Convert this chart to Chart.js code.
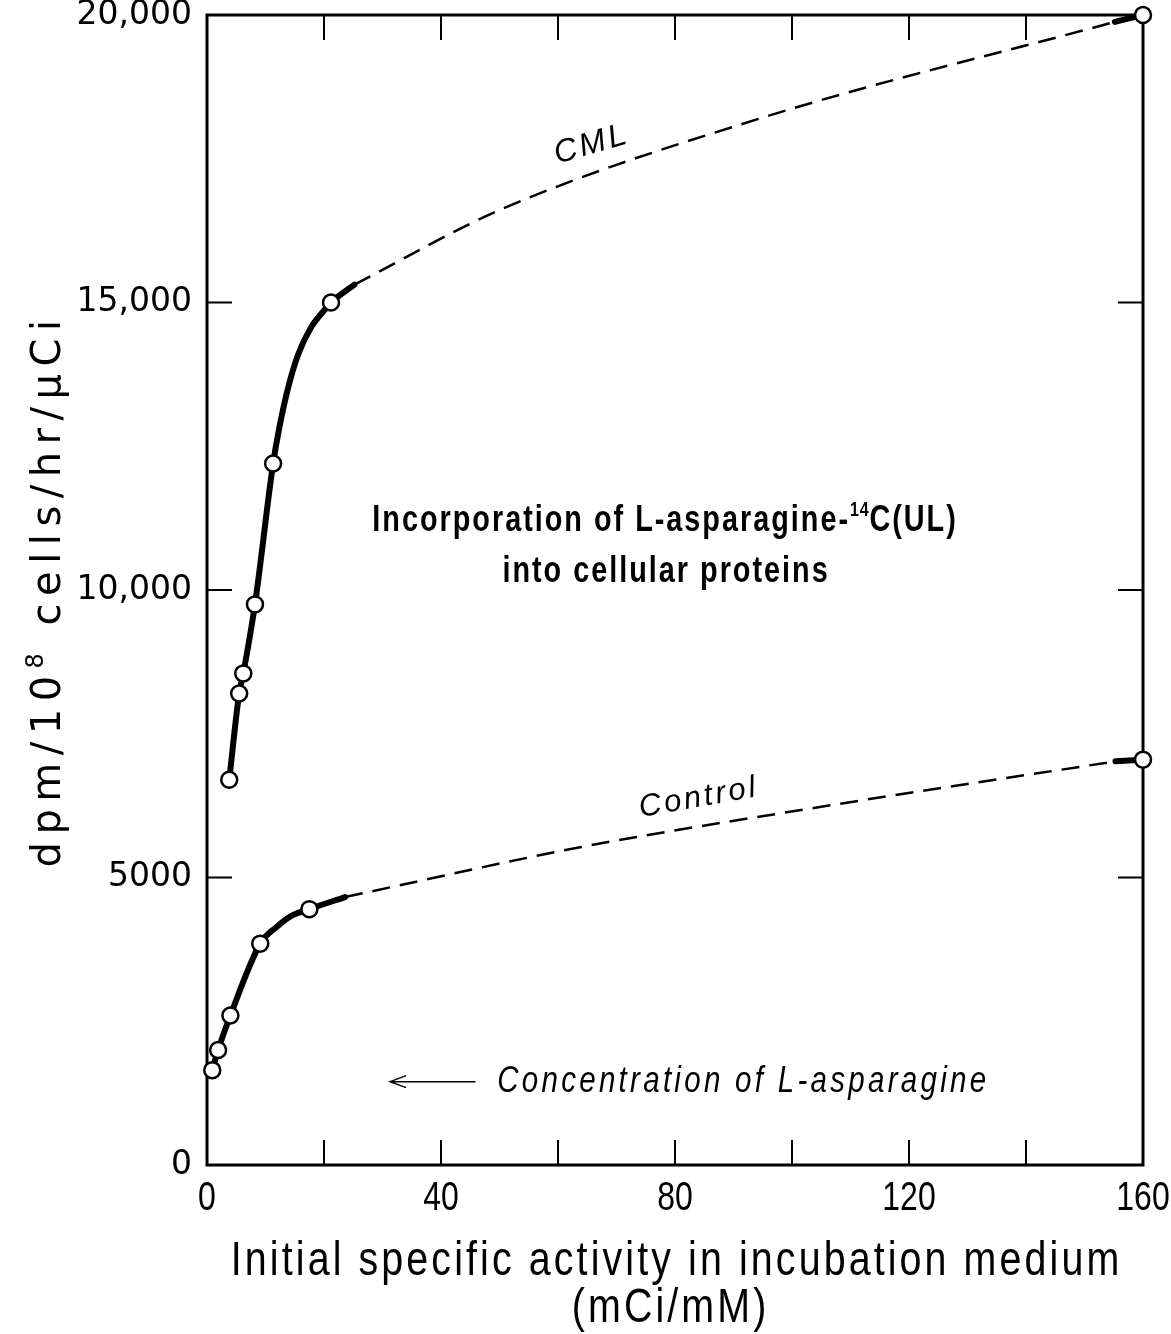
<!DOCTYPE html>
<html>
<head>
<meta charset="utf-8">
<script src="https://cdn.jsdelivr.net/npm/chart.js@4.4.1/dist/chart.umd.min.js"></script>
<style>
  html, body { margin: 0; padding: 0; background: #fff; }
  #wrap { width: 1171px; height: 1334px; }
</style>
</head>
<body>
<div id="wrap"><canvas id="chart"></canvas></div>
<script>
// ── Axes ─────────────────────────────────────────────────────────────────────
const X_MIN = 0, X_MAX = 160, X_STEP = 20;
const X_LABELED = [0, 40, 80, 120, 160];
const Y_MIN = 0, Y_MAX = 20000, Y_STEP = 5000;

// ── Measured points (open circles) ───────────────────────────────────────────
const CML_X = [3.8, 5.5, 6.2, 8.2, 11.3, 21.2, 160];
const CML_Y = [6700, 8200, 8550, 9750, 12200, 15000, 20000];
const CONTROL_X = [0.9, 1.9, 4.0, 9.1, 17.5, 160];
const CONTROL_Y = [1650, 2000, 2600, 3850, 4450, 7050];

// ── Hand-drawn curves ────────────────────────────────────────────────────────
// solid part through the low-activity points
const CML_SOLID_X = [3.8, 5.5, 6.2, 8.2, 11.3, 12.3, 13.9, 15.6, 17.8, 20.0, 21.2, 25.2];
const CML_SOLID_Y = [6700, 8200, 8550, 9750, 12200, 12790, 13530, 14100, 14570, 14860, 15000, 15310];
const CONTROL_SOLID_X = [0.9, 1.9, 4.0, 9.1, 11.9, 14.2, 17.5, 23.6];
const CONTROL_SOLID_Y = [1650, 2000, 2600, 3850, 4140, 4320, 4450, 4660];
// dashed extrapolation
const CML_DASH_X = [25.2, 50.3, 94.8, 155.2];
const CML_DASH_Y = [15310, 16620, 18210, 19880];
const CONTROL_DASH_X = [23.6, 64, 105, 155.3];
const CONTROL_DASH_Y = [4660, 5530, 6230, 7020];
// short solid stub into the last point
const CML_STUB_X = [155.2, 160];
const CML_STUB_Y = [19880, 20000];
const CONTROL_STUB_X = [155.3, 160];
const CONTROL_STUB_Y = [7020, 7050];

const pts = (xs, ys) => xs.map((x, i) => ({ x, y: ys[i] }));

const SANS = "'Liberation Sans', Arial, Helvetica, sans-serif";
const WIDE = "'DejaVu Sans', 'Liberation Sans', sans-serif";
const NARROW = 0.82;   // horizontal squeeze to imitate the condensed type

function curve(data, dashed, width) {
    return {
        data,
        borderColor: '#000',
        borderWidth: width,
        borderDash: dashed ? [18, 10] : [],
        borderCapStyle: dashed ? 'butt' : 'round',
        pointRadius: 0,
        showLine: true,
        cubicInterpolationMode: 'monotone',
        clip: false,
        order: 2,
    };
}

function markers(data) {
    return {
        data,
        showLine: false,
        pointRadius: 8,
        pointBorderWidth: 2.5,
        pointBackgroundColor: '#fff',
        pointBorderColor: '#000',
        clip: false,
        order: 1,
    };
}

// ── Frame with inward ticks on all four sides ────────────────────────────────
const TICK = 25;
const frameTicks = {
    id: 'frameTicks',
    beforeDatasetsDraw(chart) {
        const { ctx, chartArea: a, scales: { x, y } } = chart;
        ctx.save();
        ctx.strokeStyle = '#000';
        ctx.lineWidth = 2;
        ctx.beginPath();
        x.ticks.forEach(t => {
            if (t.value <= X_MIN || t.value >= X_MAX) return;
            const px = x.getPixelForValue(t.value);
            ctx.moveTo(px, a.bottom); ctx.lineTo(px, a.bottom - TICK);
            ctx.moveTo(px, a.top); ctx.lineTo(px, a.top + TICK);
        });
        y.ticks.forEach(t => {
            if (t.value <= Y_MIN || t.value >= Y_MAX) return;
            const py = y.getPixelForValue(t.value);
            ctx.moveTo(a.left, py); ctx.lineTo(a.left + TICK, py);
            ctx.moveTo(a.right, py); ctx.lineTo(a.right - TICK, py);
        });
        ctx.stroke();
        ctx.lineWidth = 3;
        ctx.strokeRect(a.left, a.top, a.width, a.height);
        ctx.restore();
    },
};

// ── Texts: axis titles and annotations ──────────────────────────────────────
// draws str with letter spacing and a horizontal squeeze; returns advance width
function text(ctx, str, x, y, font, spacing, align, squeeze) {
    const k = squeeze || 1;
    ctx.font = font;
    ctx.letterSpacing = spacing + 'px';
    const w = (ctx.measureText(str).width - spacing) * k;
    const left = align === 'left' ? x : x - w / 2;
    ctx.save();
    ctx.translate(left, y);
    ctx.scale(k, 1);
    ctx.textAlign = 'left';
    ctx.fillText(str, 0, 0);
    ctx.restore();
    return w + spacing * k;
}

function measure(ctx, str, font, spacing, squeeze) {
    ctx.font = font;
    ctx.letterSpacing = spacing + 'px';
    return ctx.measureText(str).width * (squeeze || 1);
}

const annotations = {
    id: 'annotations',
    afterDraw(chart) {
        const { ctx, chartArea: a, scales: { x, y } } = chart;
        ctx.save();
        ctx.fillStyle = '#000';
        ctx.strokeStyle = '#000';
        ctx.textBaseline = 'alphabetic';

        // x tick labels (condensed figures)
        x.ticks.forEach(t => {
            if (!X_LABELED.includes(t.value)) return;
            text(ctx, String(t.value), x.getPixelForValue(t.value), a.bottom + 45, `40px ${SANS}`, 0, 'center', 0.8);
        });

        // x-axis title
        const cx = (a.left + a.right) / 2;
        text(ctx, 'Initial specific activity in incubation medium', cx, 1275, `48px ${SANS}`, 3.8, 'center', NARROW);
        text(ctx, '(mCi/mM)', cx - 6, 1322, `48px ${SANS}`, 3.8, 'center', NARROW);

        // y-axis title, with a raised 8
        ctx.save();
        ctx.translate(60, 590);
        ctx.rotate(-Math.PI / 2);
        const yt1 = 'dpm/10', yt2 = '8', yt3 = ' cells/hr/μCi';
        const f1 = `40px ${WIDE}`, f2 = `24px ${WIDE}`;
        const tw = measure(ctx, yt1, f1, 7.5) + measure(ctx, yt2, f2, 7.5) + measure(ctx, yt3, f1, 7.5);
        let tx = -tw / 2;
        tx += text(ctx, yt1, tx, 0, f1, 7.5, 'left');
        tx += text(ctx, yt2, tx, -17, f2, 7.5, 'left');
        text(ctx, yt3, tx, 0, f1, 7.5, 'left');
        ctx.restore();

        // middle caption
        const mx = x.getPixelForValue(78.3);
        const big = `bold 36px ${SANS}`, small = `bold 20px ${SANS}`;
        const l1a = 'Incorporation of L-asparagine-', l1b = '14', l1c = 'C(UL)';
        const wa = measure(ctx, l1a, big, 2.5, 0.8);
        const wb = measure(ctx, l1b, small, 1, 0.8);
        const wc = measure(ctx, l1c, big, 2.5, 0.8);
        const sx = mx - (wa + wb + wc) / 2;
        const b1 = y.getPixelForValue(11030);
        text(ctx, l1a, sx, b1, big, 2.5, 'left', 0.8);
        text(ctx, l1b, sx + wa, b1 - 15, small, 1, 'left', 0.8);
        text(ctx, l1c, sx + wa + wb, b1, big, 2.5, 'left', 0.8);
        text(ctx, 'into cellular proteins', mx, y.getPixelForValue(10140), big, 2.5, 'center', 0.8);

        // curve labels
        ctx.textBaseline = 'middle';
        ctx.save();
        ctx.translate(x.getPixelForValue(65.5), y.getPixelForValue(17740));
        ctx.rotate(-16 * Math.PI / 180);
        text(ctx, 'CML', 0, 0, `italic 32px ${SANS}`, 3, 'center');
        ctx.restore();

        ctx.save();
        ctx.translate(x.getPixelForValue(83.8), y.getPixelForValue(6380));
        ctx.rotate(-10 * Math.PI / 180);
        text(ctx, 'Control', 0, 0, `italic 31px ${SANS}`, 3, 'center');
        ctx.restore();

        // arrow + concentration note
        const ay = y.getPixelForValue(1450);
        const ax0 = x.getPixelForValue(45.9), ax1 = x.getPixelForValue(31.3);
        ctx.lineWidth = 1.5;
        ctx.beginPath();
        ctx.moveTo(ax0, ay); ctx.lineTo(ax1, ay);
        ctx.moveTo(ax1 + 16, ay - 6); ctx.lineTo(ax1, ay); ctx.lineTo(ax1 + 16, ay + 6);
        ctx.stroke();
        text(ctx, 'Concentration of L-asparagine', x.getPixelForValue(49.6), ay, `italic 36px ${SANS}`, 4, 'left', NARROW);

        ctx.restore();
    },
};

new Chart(document.getElementById('chart'), {
    type: 'scatter',
    data: {
        datasets: [
            curve(pts(CML_SOLID_X, CML_SOLID_Y), false, 6),
            curve(pts(CML_DASH_X, CML_DASH_Y), true, 2.5),
            curve(pts(CML_STUB_X, CML_STUB_Y), false, 6),
            curve(pts(CONTROL_SOLID_X, CONTROL_SOLID_Y), false, 6),
            curve(pts(CONTROL_DASH_X, CONTROL_DASH_Y), true, 2.5),
            curve(pts(CONTROL_STUB_X, CONTROL_STUB_Y), false, 6),
            markers(pts(CML_X, CML_Y)),
            markers(pts(CONTROL_X, CONTROL_Y)),
        ],
    },
    options: {
        responsive: true,
        maintainAspectRatio: false,
        animation: false,
        layout: { padding: { left: 0, top: 15, right: 28, bottom: 0 } },
        plugins: { legend: { display: false }, tooltip: { enabled: false } },
        scales: {
            x: {
                type: 'linear',
                min: X_MIN, max: X_MAX,
                afterFit(s) { s.height = 169; s.paddingLeft = 0; s.paddingRight = 0; },
                grid: { display: false, drawTicks: false },
                border: { display: false },
                ticks: { stepSize: X_STEP, autoSkip: false, display: false },
            },
            y: {
                type: 'linear',
                min: Y_MIN, max: Y_MAX,
                afterFit(s) { s.width = 207; s.paddingTop = 0; s.paddingBottom = 0; },
                grid: { display: false, drawTicks: false },
                border: { display: false },
                ticks: {
                    stepSize: Y_STEP,
                    padding: 15,
                    color: '#000',
                    font: { family: WIDE, size: 33 },
                    callback: v => v >= 10000 ? v.toLocaleString('en-US') : String(v),
                },
            },
        },
    },
    plugins: [frameTicks, annotations],
});
</script>
</body>
</html>
